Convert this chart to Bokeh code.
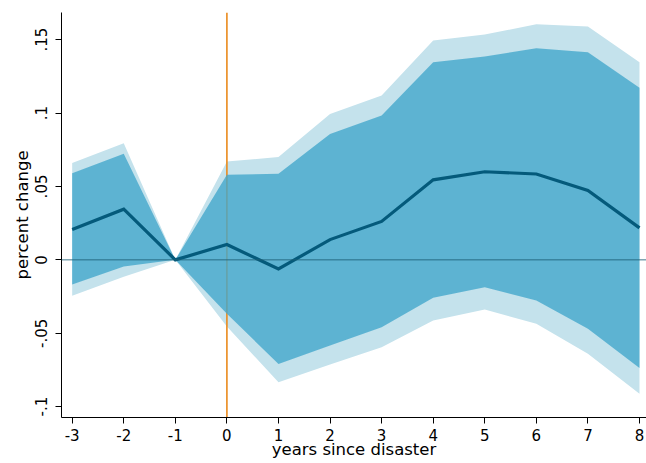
from bokeh.plotting import figure
from bokeh.models import Range1d, FixedTicker, Span
from bokeh.embed import file_html
from bokeh.resources import INLINE

# ---- data ----
years = [-3, -2, -1, 0, 1, 2, 3, 4, 5, 6, 7, 8]
estimate = [0.0206, 0.0345, 0.0, 0.0104, -0.0062, 0.0138, 0.0262, 0.0545, 0.0600, 0.0585, 0.0472, 0.0218]
ci_inner_hi = [0.0590, 0.0722, 0.0, 0.0580, 0.0586, 0.0858, 0.0983, 0.1346, 0.1385, 0.1441, 0.1414, 0.1172]
ci_inner_lo = [-0.0168, -0.0046, 0.0, -0.0368, -0.0709, -0.0584, -0.0459, -0.0259, -0.0187, -0.0277, -0.0470, -0.0736]
ci_outer_hi = [0.0660, 0.0794, 0.0, 0.0670, 0.0700, 0.0994, 0.1119, 0.1494, 0.1535, 0.1605, 0.1590, 0.1346]
ci_outer_lo = [-0.0245, -0.0115, 0.0, -0.0454, -0.0834, -0.0713, -0.0595, -0.0413, -0.0339, -0.0436, -0.0640, -0.0913]
event_year = 0
x_ticks = [-3, -2, -1, 0, 1, 2, 3, 4, 5, 6, 7, 8]
x_tick_labels = ["-3", "-2", "-1", "0", "1", "2", "3", "4", "5", "6", "7", "8"]
y_ticks = [-0.1, -0.05, 0.0, 0.05, 0.1, 0.15]
y_tick_labels = ["-.1", "-.05", "0", ".05", ".1", ".15"]
x_title = "years since disaster"
y_title = "percent change"

FONT = "DejaVu Sans"
x_start, x_end = -3.207, 8.136

p = figure(width=646, height=463, output_backend="svg", toolbar_location=None,
           x_range=Range1d(x_start, x_end), y_range=Range1d(-0.1074, 0.1685),
           min_border_left=61, min_border_right=0, min_border_top=12, min_border_bottom=46)
p.outline_line_color = None
p.xgrid.visible = False
p.ygrid.visible = False
p.background_fill_color = "white"
p.border_fill_color = "white"

# outer band
outer = p.varea(x=years, y1=ci_outer_lo, y2=ci_outer_hi, fill_color="#c4e2ec")
outer.level = "image"

# event line under the inner band
vline = Span(location=event_year, dimension="height", line_color="#ea8a1c", line_width=1.6, level="underlay")
p.add_layout(vline)

# inner band (slightly translucent)
p.varea(x=years, y1=ci_inner_lo, y2=ci_inner_hi, fill_color="#44a8cc", fill_alpha=0.8)

# zero line
zline = Span(location=0, dimension="width", line_color="#1d5f78", line_width=1, line_alpha=0.85)
p.add_layout(zline)

# point estimate
p.line(x=years, y=estimate, line_color="#045a7b", line_width=3.2, line_join="miter")

# axes
for ax in (p.xaxis[0], p.yaxis[0]):
    ax.axis_line_color = "black"
    ax.axis_line_width = 1
    ax.major_tick_line_color = "black"
    ax.major_tick_out = 6
    ax.major_tick_in = 0
    ax.minor_tick_line_color = None
    ax.major_label_text_font = FONT
    ax.major_label_text_font_size = "15px"
    ax.major_label_text_color = "black"
    ax.axis_label_text_font = FONT
    ax.axis_label_text_font_size = "16.5px"
    ax.axis_label_text_font_style = "normal"
    ax.axis_label_text_color = "black"

p.xaxis.ticker = FixedTicker(ticks=x_ticks)
p.xaxis.major_label_overrides = {t: l for t, l in zip(x_ticks, x_tick_labels)}
p.xaxis.major_label_standoff = 5
p.xaxis.axis_label = x_title
p.xaxis.axis_label_standoff = -4

p.yaxis.ticker = FixedTicker(ticks=y_ticks)
p.yaxis.major_label_overrides = {t: l for t, l in zip(y_ticks, y_tick_labels)}
p.yaxis.major_label_orientation = "vertical"
p.yaxis.major_label_standoff = 8
p.yaxis.axis_label = y_title
p.yaxis.axis_label_standoff = 1

open("out.html", "w").write(file_html(p, INLINE))
